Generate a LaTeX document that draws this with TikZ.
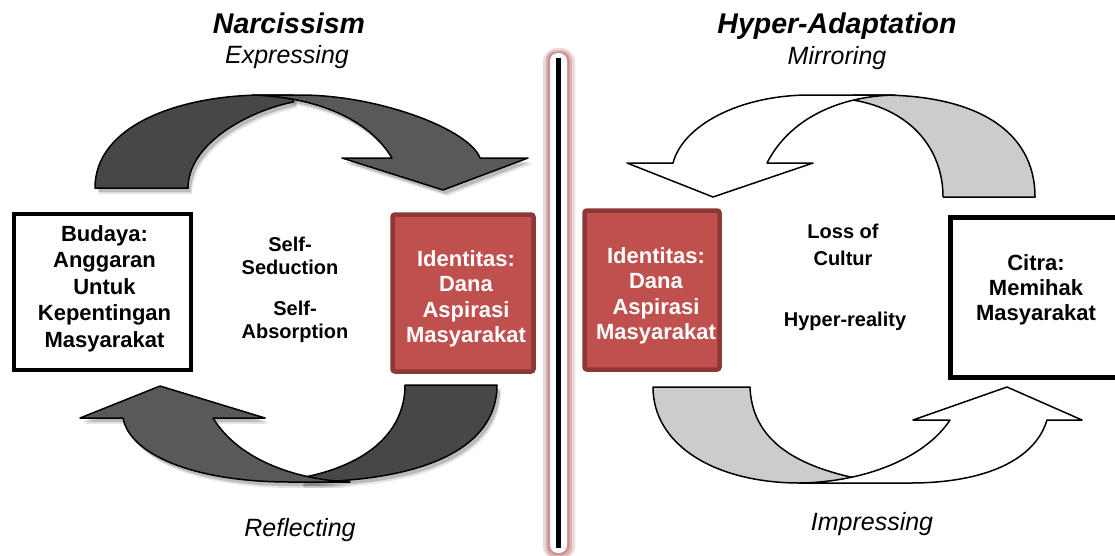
\documentclass[tikz,border=0pt]{standalone}
\usepackage{fontspec}
\setmainfont{Liberation Sans}
\definecolor{redfill}{RGB}{192,80,77}
\definecolor{redline}{RGB}{140,56,54}
\definecolor{headdark}{RGB}{89,89,89}
\definecolor{taildark}{RGB}{71,71,71}
\definecolor{tailgray}{RGB}{204,204,204}
\definecolor{glowc}{RGB}{190,110,110}
% arrow outlines (pixel coordinates)
\newcommand\pTLtail{(95,188) .. controls (95,125) and (180,95) .. (265,95) -- (293,95) -- (293,102) .. controls (245,112) and (188,145) .. (188,188) -- cycle}
\newcommand\pTLhead{(252,95) -- (300,95) .. controls (380,95) and (470,130) .. (480,158) -- (528,158) -- (443,190) -- (342,158) -- (392,158) .. controls (368,118) and (315,97) .. (252,95) -- cycle}
\newcommand\pBLtail{(405,385) -- (497,385) .. controls (497,450) and (420,482) .. (300,482) -- (300,478) .. controls (370,465) and (405,430) .. (405,385) -- cycle}
\newcommand\pBLhead{(350,482) -- (290,482) .. controls (195,482) and (130,455) .. (123,418) -- (80,418) -- (160,386) -- (265,418) -- (213,418) .. controls (240,462) and (300,480) .. (350,482) -- cycle}
\newcommand\pTRtail{(943,197) -- (1035,197) .. controls (1035,130) and (975,95) .. (880,95) -- (853,95) -- (853,100) .. controls (912,110) and (943,150) .. (943,197) -- cycle}
\newcommand\pTRhead{(895,95) -- (810,95) .. controls (740,95) and (683,125) .. (673,163) -- (627,163) -- (713,197) -- (813,163) -- (767,163) .. controls (790,118) and (840,96) .. (895,95) -- cycle}
\newcommand\pBRtail{(653,387) -- (750,387) .. controls (752,440) and (795,465) .. (855,478) -- (855,483) -- (800,483) .. controls (715,483) and (653,445) .. (653,387) -- cycle}
\newcommand\pBRhead{(800,483) -- (910,483) .. controls (985,483) and (1035,460) .. (1047,420) -- (1082,420) -- (1007,387) -- (913,420) -- (950,420) .. controls (925,458) and (865,482) .. (800,483) -- cycle}
\begin{document}
\begin{tikzpicture}[x=1pt,y=-1pt,
  blackbox/.style={draw=black,line width=4.5,fill=white,inner sep=0},
  redbox/.style={draw=redline,fill=redfill,line width=4.5,rounded corners=2.5,inner sep=0},
  boxtext/.style={align=center,inner sep=0,font=\fontsize{22}{26.5}\selectfont\bfseries},
  midtext/.style={align=center,inner sep=0,font=\fontsize{20}{23}\selectfont\bfseries},
  titletext/.style={anchor=base,inner sep=0,font=\fontsize{28.5}{32}\selectfont\bfseries\itshape},
  subtext/.style={anchor=base,inner sep=0,font=\fontsize{25}{30}\selectfont\itshape},
  arrowline/.style={draw=black,line width=1.5,line join=round},
  shadowA/.style={fill=black,opacity=0.10},
  shadowB/.style={fill=black,opacity=0.18}]
\useasboundingbox (0,0) rectangle (1115,555);
\fill[white] (0,0) rectangle (1115,555);

% ---- divider
\coordinate (divTop) at (558.5,58);
\coordinate (divBot) at (558.5,548);
\fill[glowc,opacity=.25,rounded corners=14] (543,48) rectangle (575,560);
\fill[glowc,opacity=.35,rounded corners=11] (545.5,50) rectangle (572,558);
\fill[glowc,opacity=.5,rounded corners=9.5] (547.5,51.5) rectangle (569.5,555);
\fill[white,rounded corners=8] (550,53) rectangle (567,553);
\draw[line width=5] (divTop) -- (divBot);

% ---- left arrows: shadows
\begin{scope}[shift={(4,6)}]
  \fill[shadowA] \pTLtail; \fill[shadowA] \pTLhead;
  \fill[shadowA] \pBLtail; \fill[shadowA] \pBLhead;
\end{scope}
\begin{scope}[shift={(3,4)}]
  \fill[shadowB] \pTLtail; \fill[shadowB] \pTLhead;
  \fill[shadowB] \pBLtail; \fill[shadowB] \pBLhead;
\end{scope}
\path[arrowline,fill=taildark] \pTLtail;
\path[arrowline,fill=headdark] \pTLhead;
\path[arrowline,fill=taildark] \pBLtail;
\path[arrowline,fill=headdark] \pBLhead;

% ---- right arrows
\path[arrowline,fill=tailgray] \pTRtail;
\path[arrowline,fill=white] \pTRhead;
\path[arrowline,fill=tailgray] \pBRtail;
\path[arrowline,fill=white] \pBRhead;

% ---- boxes
\node[blackbox,minimum width=177,minimum height=156] (budaya) at (102.5,292) {};
\node[boxtext] (budayaT) at (104.5,288.5) {Budaya:\\Anggaran\\Untuk\\Kepentingan\\Masyarakat};
\node[redbox,minimum width=141,minimum height=157] (idL) at (463,293) {};
\node[boxtext,text=white,font=\fontsize{22}{25.5}\selectfont\bfseries] (idLT) at (466,299) {Identitas:\\Dana\\Aspirasi\\Masyarakat};
\node[redbox,minimum width=135,minimum height=159] (idR) at (652,290) {};
\node[boxtext,text=white,font=\fontsize{22}{25.5}\selectfont\bfseries] (idRT) at (656,296) {Identitas:\\Dana\\Aspirasi\\Masyarakat};
\node[blackbox,minimum width=171,minimum height=160] (citra) at (1036,297.5) {};
\node[boxtext,font=\fontsize{22}{25}\selectfont\bfseries] (citraT) at (1036,290) {Citra:\\Memihak\\Masyarakat};

% ---- middle texts
\node[midtext] (sed) at (290,255.5) {Self-\\Seduction};
\node[midtext] (abs) at (295,322) {Self-\\Absorption};
\node[midtext,font=\fontsize{20}{26.5}\selectfont\bfseries] (loss) at (843,245) {Loss of\\Cultur};
\node[midtext] (hyper) at (845,321) {Hyper-reality};

% ---- titles
\node[titletext] (narc) at (289,33) {Narcissism};
\node[subtext] (expr) at (287,63) {Expressing};
\node[titletext] (hada) at (837,33) {Hyper-Adaptation};
\node[subtext] (mirr) at (837,64) {Mirroring};
\node[subtext] (refl) at (300,536) {Reflecting};
\node[subtext] (impr) at (872,530) {Impressing};
\end{tikzpicture}
\end{document}
